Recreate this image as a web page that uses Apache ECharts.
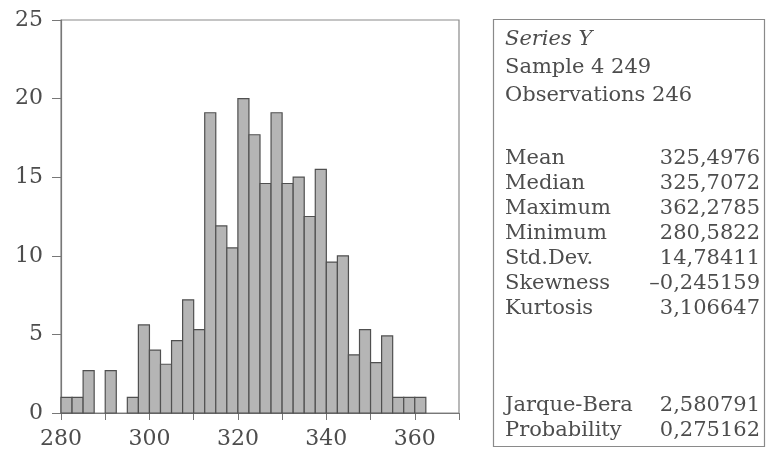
<!DOCTYPE html>
<html><head><meta charset="utf-8">
<script src="https://cdn.jsdelivr.net/npm/echarts@6/dist/echarts.min.js"></script>
<style>html,body{margin:0;padding:0;background:#fff}#c{width:766px;height:450px}</style>
</head><body><div id="c"></div>
<script>
// bin edges (left, right) and counts
const binLeft = [280,282.5,285,287.5,290,292.5,295,297.5,300,302.5,305,307.5,310,312.5,315,317.5,320,322.5,325,327.5,330,332.5,335,337.5,340,342.5,345,347.5,350,352.5,355,357.5,360];
const binRight = [282.5,285,287.5,290,292.5,295,297.5,300,302.5,305,307.5,310,312.5,315,317.5,320,322.5,325,327.5,330,332.5,335,337.5,340,342.5,345,347.5,350,352.5,355,357.5,360,362.5];
const counts = [1,1,2.7,0,2.7,0,1,5.6,4.0,3.1,4.6,7.2,5.3,19.1,11.9,10.5,20,17.7,14.6,19.1,14.6,15.0,12.5,15.5,9.6,10,3.7,5.3,3.2,4.9,1,1,1];
const headerLines = ['Series Y','Sample 4 249','Observations 246'];
const statNames = ['Mean','Median','Maximum','Minimum','Std.Dev.','Skewness','Kurtosis'];
const statValues = ['325,4976','325,7072','362,2785','280,5822','14,78411','\u20130,245159','3,106647'];
const testNames = ['Jarque-Bera','Probability'];
const testValues = ['2,580791','0,275162'];

const FONT = 'DejaVu Serif';
const TXT = '#4d4d4d';
const FS = 21;
const data = binLeft.map((l,i)=>[l, binRight[i], counts[i]]);

const graphic = [];
graphic.push({type:'rect', shape:{x:493.5,y:19.5,width:271,height:427}, style:{fill:'none',stroke:'#8a8a8a',lineWidth:1.2}, silent:true});
function txt(t, y, opts){
  const o = Object.assign({type:'text', top:y-FS/2-1, style:{text:t, font:FS+'px "'+FONT+'"', fill:TXT}}, opts);
  if (opts.italic) { o.style.font = 'italic '+o.style.font; delete o.italic; }
  graphic.push(o);
}
const hy = [41,69,97];
headerLines.forEach((t,i)=>txt(t, hy[i], {left:505, italic:i===0}));
const sy = [160,185,210,235,260,285,310];
statNames.forEach((t,i)=>{ txt(t, sy[i], {left:505}); txt(statValues[i], sy[i], {right:6}); });
const ty = [407,432];
testNames.forEach((t,i)=>{ txt(t, ty[i], {left:505}); txt(testValues[i], ty[i], {right:6}); });

const chart = echarts.init(document.getElementById('c'), null, {renderer:'canvas'});
chart.setOption({
  animation:false,
  backgroundColor:'#fff',
  grid:{left:61, right:307, top:20, bottom:35, show:true, borderColor:'#8a8a8a', borderWidth:1.2, backgroundColor:'transparent'},
  xAxis:{type:'value', min:280, max:370, interval:10,
    axisLine:{show:true, onZero:false, lineStyle:{color:'#777', width:1.2}},
    axisTick:{show:true, length:7, lineStyle:{color:'#777'}},
    splitLine:{show:false},
    axisLabel:{color:TXT, fontFamily:FONT, fontSize:22, margin:15,
      formatter:v=> (v%20===0 ? String(v) : '')}
  },
  yAxis:{type:'value', min:0, max:25, interval:5,
    axisLine:{show:true, lineStyle:{color:'#777', width:1.2}},
    axisTick:{show:true, length:9, lineStyle:{color:'#777'}},
    splitLine:{show:false},
    axisLabel:{color:TXT, fontFamily:FONT, fontSize:22, margin:18, padding:[6,0,0,0]}
  },
  series:[{
    type:'custom',
    data:data,
    encode:{x:[0,1], y:2},
    renderItem:function(params, api){
      if (api.value(2) <= 0) return null;
      const p0 = api.coord([api.value(0), 0]);
      const p1 = api.coord([api.value(1), api.value(2)]);
      return {type:'rect', shape:{x:p0[0], y:p1[1], width:p1[0]-p0[0], height:p0[1]-p1[1]},
        style:{fill:'#b5b5b5', stroke:'#505050', lineWidth:1.2}};
    }
  }],
  graphic:graphic
});
</script></body></html>
